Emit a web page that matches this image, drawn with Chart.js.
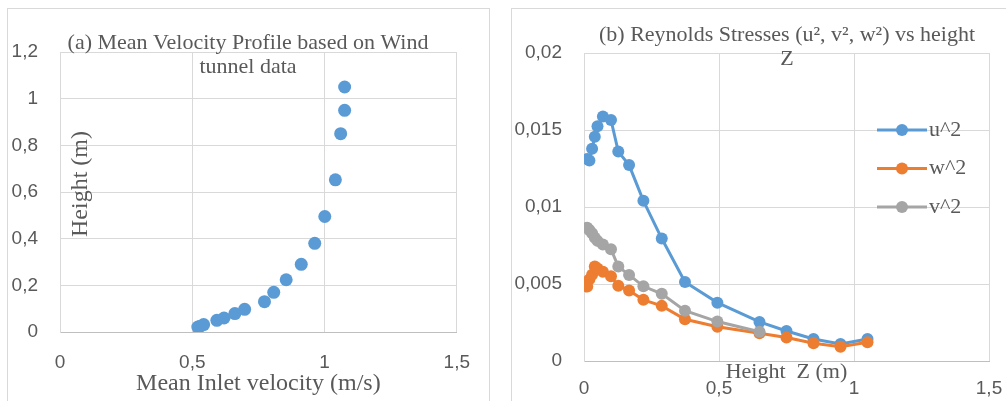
<!DOCTYPE html>
<html>
<head>
<meta charset="utf-8">
<script src="https://cdn.jsdelivr.net/npm/chart.js@4/dist/chart.umd.min.js"></script>
<style>
  html, body { margin: 0; padding: 0; background: #fff; }
  body { width: 1006px; height: 401px; overflow: hidden; position: relative; }
  .panel { position: absolute; top: 8px; border: 1px solid #d9d9d9; border-bottom: none; }
  #panelA { left: 7px; width: 481px; height: 393px; }
  #panelB { left: 511px; width: 520px; height: 393px; }
  canvas { position: absolute; left: 0; top: 0; }
</style>
</head>
<body>
<div class="panel" id="panelA"><canvas id="chartA" width="481" height="392"></canvas></div>
<div class="panel" id="panelB"><canvas id="chartB" width="520" height="392"></canvas></div>
<script>
// (a) mean inlet velocity (m/s) against height (m)
var velocity = [0.521, 0.530, 0.543, 0.593, 0.620, 0.661, 0.698, 0.773, 0.808, 0.855, 0.912, 0.963, 1.001, 1.041, 1.061, 1.076, 1.076];
var height   = [0.021, 0.025, 0.032, 0.050, 0.060, 0.079, 0.097, 0.130, 0.170, 0.224, 0.290, 0.380, 0.495, 0.652, 0.850, 0.950, 1.050];

// (b) Reynolds stresses against height Z (m)
var heightZ = [0.012, 0.020, 0.030, 0.040, 0.050, 0.070, 0.100, 0.127, 0.167, 0.220, 0.288, 0.374, 0.494, 0.650, 0.750, 0.850, 0.950, 1.050];
var u2 = [0.01312, 0.01302, 0.01378, 0.01456, 0.01525, 0.01588, 0.01565, 0.01360, 0.01272, 0.01040, 0.00795, 0.00513, 0.00379, 0.00254, 0.00195, 0.00143, 0.00110, 0.00143];
var w2 = [0.00483, 0.00530, 0.00560, 0.00613, 0.00600, 0.00580, 0.00550, 0.00488, 0.00458, 0.00397, 0.00358, 0.00271, 0.00223, 0.00180, 0.00152, 0.00115, 0.00093, 0.00122];
var v2 = [0.00866, 0.00850, 0.00830, 0.00800, 0.00780, 0.00757, 0.00726, 0.00613, 0.00559, 0.00485, 0.00436, 0.00327, 0.00256, 0.00190];

var TEXT = '#595959';
var GRID = '#d9d9d9';
var SERIF = '"Liberation Serif", "Times New Roman", serif';
var SANS = '"Liberation Sans", Arial, sans-serif';

function commaLabel(v){
  return String(parseFloat(v.toFixed(4))).replace('.', ',');
}

function points(xs, ys){
  var out = [];
  for (var i = 0; i < ys.length; i++) out.push({ x: xs[i], y: ys[i] });
  return out;
}

// free text drawn over the panel (titles that overlap the plot area)
var panelText = {
  id: 'panelText',
  afterDraw: function(chart, args, opts){
    var ctx = chart.ctx;
    (opts.items || []).forEach(function(t){
      ctx.save();
      ctx.font = t.font;
      ctx.fillStyle = TEXT;
      ctx.textAlign = 'center';
      ctx.textBaseline = 'middle';
      ctx.translate(t.x, t.y);
      if (t.rotate) ctx.rotate(t.rotate);
      ctx.fillText(t.text, 0, 0);
      ctx.restore();
    });
  }
};

// excel style legend: short line with a marker, then the label
var lineLegend = {
  id: 'lineLegend',
  afterDraw: function(chart, args, opts){
    if (!opts.show) return;
    var ctx = chart.ctx;
    chart.data.datasets.forEach(function(ds, i){
      var y = opts.y + i * opts.gap;
      ctx.save();
      ctx.strokeStyle = ds.borderColor;
      ctx.lineWidth = ds.borderWidth;
      ctx.beginPath();
      ctx.moveTo(opts.x, y);
      ctx.lineTo(opts.x + opts.len, y);
      ctx.stroke();
      ctx.fillStyle = ds.backgroundColor;
      ctx.beginPath();
      ctx.arc(opts.x + opts.len / 2, y, ds.pointRadius, 0, Math.PI * 2);
      ctx.fill();
      ctx.fillStyle = TEXT;
      ctx.font = '22px ' + SERIF;
      ctx.textAlign = 'left';
      ctx.textBaseline = 'middle';
      ctx.fillText(ds.label, opts.x + opts.len + 2, y);
      ctx.restore();
    });
  }
};

Chart.register(panelText, lineLegend);

function axes(cfg){
  return {
    x: {
      type: 'linear', position: 'bottom', min: 0, max: 1.5,
      afterFit: function(s){ s.height = cfg.xHeight; },
      ticks: { stepSize: 0.5, padding: cfg.xPad, color: TEXT, font: { family: SANS, size: 19 }, callback: commaLabel },
      grid: { color: GRID, drawTicks: false },
      border: { color: '#bfbfbf' },
      title: { display: true, text: cfg.xTitle, color: TEXT, font: { family: SERIF, size: cfg.xTitleSize }, padding: { top: 0, bottom: cfg.xTitlePad } }
    },
    y: {
      type: 'linear', min: 0, max: cfg.yMax,
      afterFit: function(s){ s.width = cfg.yWidth; },
      ticks: { stepSize: cfg.yStep, padding: 22, color: TEXT, font: { family: SANS, size: 19 }, callback: commaLabel },
      grid: { color: GRID, drawTicks: false },
      border: { color: GRID }
    }
  };
}

new Chart(document.getElementById('chartA'), {
  type: 'scatter',
  data: {
    datasets: [{
      label: 'Height',
      data: points(velocity, height),
      backgroundColor: '#5b9bd5',
      borderColor: '#5b9bd5',
      pointRadius: 6.5,
      pointBorderWidth: 0
    }]
  },
  options: {
    responsive: false,
    animation: false,
    events: [],
    layout: { padding: { left: 0, top: 43, right: 28, bottom: 0 } },
    scales: axes({ xHeight: 69, xPad: 19, xTitle: 'Mean Inlet velocity (m/s)', xTitleSize: 24, xTitlePad: 3, yMax: 1.2, yStep: 0.2, yWidth: 52 }),
    plugins: {
      legend: { display: false },
      tooltip: { enabled: false },
      panelText: {
        items: [
          { text: '(a) Mean Velocity Profile based on Wind', x: 240, y: 34, font: '22px ' + SERIF },
          { text: 'tunnel data', x: 240, y: 58, font: '22px ' + SERIF },
          { text: 'Height (m)', x: 73, y: 175, font: '24px ' + SERIF, rotate: -Math.PI / 2 }
        ]
      },
      lineLegend: { show: false }
    }
  }
});

new Chart(document.getElementById('chartB'), {
  type: 'scatter',
  data: {
    datasets: [
      { label: 'u^2', data: points(heightZ, u2), order: 2 },
      { label: 'w^2', data: points(heightZ, w2), order: 1 },
      { label: 'v^2', data: points(heightZ, v2), order: 0 }
    ].map(function(ds, i){
      var c = ['#5b9bd5', '#ed7d31', '#a5a5a5'][i];
      ds.showLine = true;
      ds.borderColor = c;
      ds.backgroundColor = c;
      ds.borderWidth = 3;
      ds.pointRadius = 6;
      ds.pointBorderWidth = 0;
      return ds;
    })
  },
  options: {
    responsive: false,
    animation: false,
    events: [],
    layout: { padding: { left: 0, top: 44, right: 43, bottom: 0 } },
    scales: axes({ xHeight: 40, xPad: 16, xTitle: 'Height  Z (m)', xTitleSize: 22, xTitlePad: 16, yMax: 0.02, yStep: 0.005, yWidth: 72 }),
    plugins: {
      legend: { display: false },
      tooltip: { enabled: false },
      panelText: {
        items: [
          { text: '(b) Reynolds Stresses (u\u00b2, v\u00b2, w\u00b2) vs height', x: 275, y: 26, font: '22px ' + SERIF },
          { text: 'Z', x: 275, y: 50, font: '22px ' + SERIF }
        ]
      },
      lineLegend: { show: true, x: 365, y: 121, gap: 38.5, len: 50 }
    }
  }
});
</script>
</body>
</html>
